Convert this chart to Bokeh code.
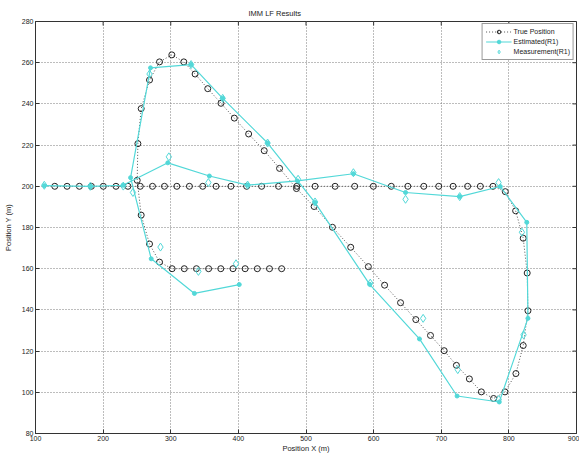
import math
from bokeh.plotting import figure
from bokeh.models import Range1d, FixedTicker, Legend, LegendItem
from bokeh.embed import file_html
from bokeh.resources import INLINE

# ---------------- data ----------------
x_ticks = [100, 200, 300, 400, 500, 600, 700, 800, 900]
y_ticks = [80, 100, 120, 140, 160, 180, 200, 220, 240, 260, 280]

true_x = [464, 446, 428, 410, 392, 374, 356, 338, 320, 302,
          283.4, 268.6, 256.3, 250.4, 251.4, 256.3, 268.6, 283.4, 301.6, 319.3,
          336, 354.7, 374.3, 394, 415.2, 438.2, 460.9, 485.9, 512, 539.1,
          566.1, 592.2, 616.2, 639.8, 662.4, 684.1, 704.3, 722.4, 741.6, 759.3,
          777.4, 794.2, 810.4, 821.2, 828.2, 827.1, 821.2, 810.0, 794.7, 776.5,
          757.8, 739, 717.5, 696.3, 674.2, 650.6, 626.1, 599.6, 572, 543,
          513.4, 486.4, 459.4, 434.4, 412.2, 389, 367, 347.3, 327.6, 309,
          290.7, 273, 254.9, 236.7, 219, 200.3, 182.6, 164.9, 146.7, 128.5]
true_y = [160, 160, 160, 160, 160, 160, 160, 160, 160, 160,
          163.2, 172, 186, 202.9, 220.7, 237.7, 251.6, 260.4, 263.8, 260.4,
          254.5, 247.4, 240.3, 233.1, 225.4, 217.3, 208.7, 198.9, 190.2, 180.1,
          170.4, 161.0, 152.0, 143.5, 135.3, 127.6, 120.2, 113.1, 106.5, 100.2,
          97.0, 100.2, 109.1, 122.7, 139.6, 157.9, 174.8, 188.1, 197.4, 200,
          200, 200, 200, 200, 200, 200, 200, 200, 200, 200,
          200, 200, 200, 200, 200, 200, 200, 200, 200, 200,
          200, 200, 200, 200, 200, 200, 200, 200, 200, 200]

est_x = [401.3, 335, 271.1, 240.6, 270.1, 330.1, 376.8, 443.2, 513.4, 594.1,
         667.8, 723.4, 785.8, 828.2, 826.5, 787.3, 727.3, 647.2, 570.1, 487.4,
         413.7, 357.1, 295.7, 229.3, 181.5, 113]
est_y = [152.3, 148, 164.8, 204.2, 257.5, 259.1, 242.7, 221.0, 192.1, 152.4,
         125.9, 98.2, 95.3, 135.9, 182.5, 199.9, 195.0, 197.0, 206.1, 202.6,
         200.6, 205.0, 211.4, 200.5, 200.0, 200.3]

meas_x = [396.5, 340.9, 284.8, 244.1, 268.6, 330.1, 376.8, 443.2, 513.4, 595,
          673.2, 724.4, 785, 821.7, 819.3, 784.8, 727.3, 647.2, 570.1, 488.3,
          413.7, 355.6, 297.2, 229.8, 181, 113]
meas_y = [162.4, 158.7, 170.5, 197.0, 254.5, 259.1, 242.7, 221.0, 192.4, 153,
          135.9, 111.0, 96.5, 127.9, 177.7, 201.8, 195.0, 193.7, 206.6, 203.4,
          200.6, 201.8, 214.3, 200.1, 200, 200.5]

# ---------------- figure ----------------
FONT = "Liberation Sans"
CYAN = "#52D8D8"
DARK = "#333333"

p = figure(width=579, height=455, output_backend="svg", toolbar_location=None,
           x_range=Range1d(x_ticks[0], x_ticks[-1]),
           y_range=Range1d(y_ticks[0], y_ticks[-1]),
           min_border_left=34, min_border_right=3, min_border_top=21,
           min_border_bottom=19, title="IMM LF Results")
p.background_fill_color = "white"
p.border_fill_color = "white"
p.outline_line_color = DARK
p.outline_line_width = 1

p.title.text_font = FONT
p.title.text_font_size = "7.5px"
p.title.text_font_style = "normal"
p.title.text_color = "#222222"
p.title.align = "left"
p.title.offset = 213
p.title.standoff = 7

for ax, ticks in ((p.xaxis, x_ticks), (p.yaxis, y_ticks)):
    ax.ticker = FixedTicker(ticks=ticks)
    ax.major_tick_in = 4
    ax.major_tick_out = 0
    ax.minor_tick_in = 0
    ax.minor_tick_out = 0
    ax.major_tick_line_color = DARK
    ax.axis_line_color = DARK
    ax.major_label_text_font = FONT
    ax.major_label_text_font_size = "7px"
    ax.major_label_text_color = "#222222"
    ax.major_label_standoff = 2
    ax.axis_label_text_font = FONT
    ax.axis_label_text_font_size = "7.5px"
    ax.axis_label_text_font_style = "normal"
    ax.axis_label_text_color = "#222222"

p.xaxis.axis_label = "Position X (m)"
p.xaxis.axis_label_standoff = 0
p.yaxis.axis_label = "Position Y (m)"
p.yaxis.axis_label_standoff = 6

# inward ticks on the top and right edges of the box
p.ray(x=x_ticks, y=[y_ticks[-1]] * len(x_ticks), length=4, length_units="screen",
      angle=-math.pi / 2, line_color=DARK, line_width=1)
p.ray(x=[x_ticks[-1]] * len(y_ticks), y=y_ticks, length=4, length_units="screen",
      angle=math.pi, line_color=DARK, line_width=1)

p.xgrid.ticker = FixedTicker(ticks=x_ticks)
p.ygrid.ticker = FixedTicker(ticks=y_ticks)
for g in (p.xgrid, p.ygrid):
    g.grid_line_color = "#7a7a7a"
    g.grid_line_dash = "1 2"
    g.grid_line_width = 1

# ---------------- glyphs ----------------
tl = p.line(true_x, true_y, line_color="#555555", line_dash="1 2", line_width=1)
tc = p.scatter(true_x, true_y, marker="circle", size=6, fill_color=None,
               line_color="#222222", line_width=1)
el = p.line(est_x, est_y, line_color=CYAN, line_width=1.2)
ec = p.scatter(est_x, est_y, marker="circle", size=4, fill_color=CYAN,
               line_color=CYAN)
md = p.scatter(meas_x, meas_y, marker="diamond", size=8, fill_color=None,
               line_color=CYAN, line_width=1)

legend = Legend(items=[
    LegendItem(label="True Position", renderers=[tl, tc]),
    LegendItem(label="Estimated(R1)", renderers=[el, ec]),
    LegendItem(label="Measurement(R1)", renderers=[md]),
], location="top_right")
legend.label_text_font = FONT
legend.label_text_font_size = "7px"
legend.label_text_color = "#222222"
legend.glyph_width = 26
legend.glyph_height = 9
legend.label_height = 9
legend.label_standoff = 2
legend.spacing = 1
legend.padding = 3
legend.margin = 2
legend.border_line_color = DARK
legend.background_fill_color = "white"
legend.background_fill_alpha = 1
p.add_layout(legend)

open("out.html", "w").write(file_html(p, INLINE))
